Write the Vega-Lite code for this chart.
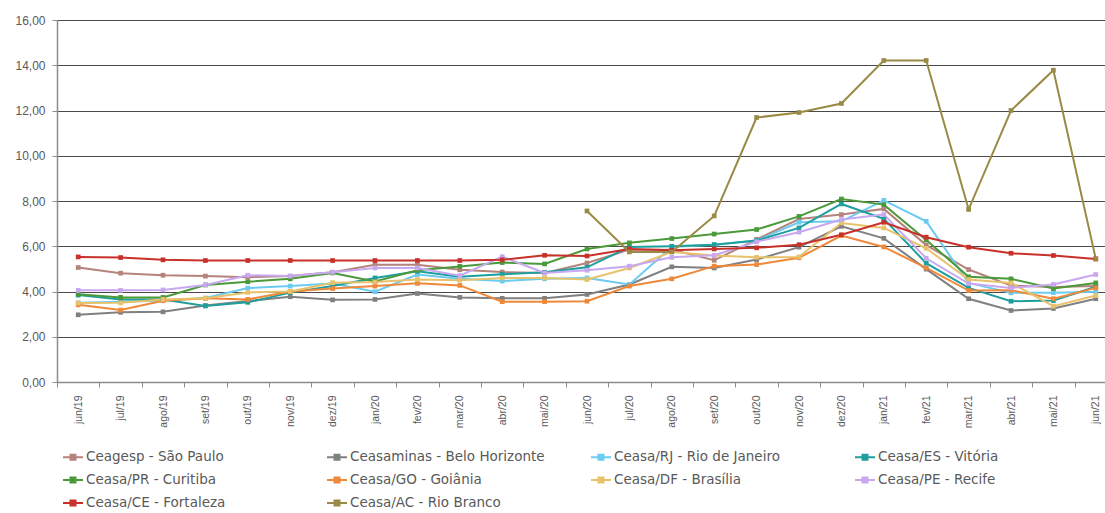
{
  "$schema": "https://vega.github.io/schema/vega-lite/v6.json",
  "autosize": "none",
  "width": 1048,
  "height": 362,
  "padding": {"left": 57, "top": 20, "right": 0, "bottom": 131},
  "background": "white",
  "config": {
    "view": {"stroke": null},
    "font": "Liberation Sans"
  },
  "data": {"values": [
    {"m":"jun/19","s":"Ceagesp - São Paulo","v":5.06},{"m":"jul/19","s":"Ceagesp - São Paulo","v":4.81},{"m":"ago/19","s":"Ceagesp - São Paulo","v":4.72},{"m":"set/19","s":"Ceagesp - São Paulo","v":4.68},{"m":"out/19","s":"Ceagesp - São Paulo","v":4.63},{"m":"nov/19","s":"Ceagesp - São Paulo","v":4.68},{"m":"dez/19","s":"Ceagesp - São Paulo","v":4.85},{"m":"jan/20","s":"Ceagesp - São Paulo","v":5.18},{"m":"fev/20","s":"Ceagesp - São Paulo","v":5.18},{"m":"mar/20","s":"Ceagesp - São Paulo","v":4.96},{"m":"abr/20","s":"Ceagesp - São Paulo","v":4.86},{"m":"mai/20","s":"Ceagesp - São Paulo","v":4.82},{"m":"jun/20","s":"Ceagesp - São Paulo","v":5.26},{"m":"jul/20","s":"Ceagesp - São Paulo","v":5.85},{"m":"ago/20","s":"Ceagesp - São Paulo","v":5.85},{"m":"set/20","s":"Ceagesp - São Paulo","v":5.38},{"m":"out/20","s":"Ceagesp - São Paulo","v":6.3},{"m":"nov/20","s":"Ceagesp - São Paulo","v":7.2},{"m":"dez/20","s":"Ceagesp - São Paulo","v":7.4},{"m":"jan/21","s":"Ceagesp - São Paulo","v":7.65},{"m":"fev/21","s":"Ceagesp - São Paulo","v":6.05},{"m":"mar/21","s":"Ceagesp - São Paulo","v":4.97},{"m":"abr/21","s":"Ceagesp - São Paulo","v":4.26},{"m":"mai/21","s":"Ceagesp - São Paulo","v":4.2},{"m":"jun/21","s":"Ceagesp - São Paulo","v":4.24},
    {"m":"jun/19","s":"Ceasaminas - Belo Horizonte","v":2.97},{"m":"jul/19","s":"Ceasaminas - Belo Horizonte","v":3.08},{"m":"ago/19","s":"Ceasaminas - Belo Horizonte","v":3.1},{"m":"set/19","s":"Ceasaminas - Belo Horizonte","v":3.38},{"m":"out/19","s":"Ceasaminas - Belo Horizonte","v":3.58},{"m":"nov/19","s":"Ceasaminas - Belo Horizonte","v":3.77},{"m":"dez/19","s":"Ceasaminas - Belo Horizonte","v":3.63},{"m":"jan/20","s":"Ceasaminas - Belo Horizonte","v":3.65},{"m":"fev/20","s":"Ceasaminas - Belo Horizonte","v":3.91},{"m":"mar/20","s":"Ceasaminas - Belo Horizonte","v":3.74},{"m":"abr/20","s":"Ceasaminas - Belo Horizonte","v":3.7},{"m":"mai/20","s":"Ceasaminas - Belo Horizonte","v":3.7},{"m":"jun/20","s":"Ceasaminas - Belo Horizonte","v":3.87},{"m":"jul/20","s":"Ceasaminas - Belo Horizonte","v":4.31},{"m":"ago/20","s":"Ceasaminas - Belo Horizonte","v":5.09},{"m":"set/20","s":"Ceasaminas - Belo Horizonte","v":5.04},{"m":"out/20","s":"Ceasaminas - Belo Horizonte","v":5.41},{"m":"nov/20","s":"Ceasaminas - Belo Horizonte","v":5.96},{"m":"dez/20","s":"Ceasaminas - Belo Horizonte","v":6.88},{"m":"jan/21","s":"Ceasaminas - Belo Horizonte","v":6.35},{"m":"fev/21","s":"Ceasaminas - Belo Horizonte","v":4.99},{"m":"mar/21","s":"Ceasaminas - Belo Horizonte","v":3.68},{"m":"abr/21","s":"Ceasaminas - Belo Horizonte","v":3.16},{"m":"mai/21","s":"Ceasaminas - Belo Horizonte","v":3.25},{"m":"jun/21","s":"Ceasaminas - Belo Horizonte","v":3.68},
    {"m":"jun/19","s":"Ceasa/RJ - Rio de Janeiro","v":3.5},{"m":"jul/19","s":"Ceasa/RJ - Rio de Janeiro","v":3.55},{"m":"ago/19","s":"Ceasa/RJ - Rio de Janeiro","v":3.6},{"m":"set/19","s":"Ceasa/RJ - Rio de Janeiro","v":3.71},{"m":"out/19","s":"Ceasa/RJ - Rio de Janeiro","v":4.15},{"m":"nov/19","s":"Ceasa/RJ - Rio de Janeiro","v":4.24},{"m":"dez/19","s":"Ceasa/RJ - Rio de Janeiro","v":4.35},{"m":"jan/20","s":"Ceasa/RJ - Rio de Janeiro","v":3.99},{"m":"fev/20","s":"Ceasa/RJ - Rio de Janeiro","v":4.75},{"m":"mar/20","s":"Ceasa/RJ - Rio de Janeiro","v":4.56},{"m":"abr/20","s":"Ceasa/RJ - Rio de Janeiro","v":4.46},{"m":"mai/20","s":"Ceasa/RJ - Rio de Janeiro","v":4.56},{"m":"jun/20","s":"Ceasa/RJ - Rio de Janeiro","v":4.6},{"m":"jul/20","s":"Ceasa/RJ - Rio de Janeiro","v":4.31},{"m":"ago/20","s":"Ceasa/RJ - Rio de Janeiro","v":5.97},{"m":"set/20","s":"Ceasa/RJ - Rio de Janeiro","v":6.07},{"m":"out/20","s":"Ceasa/RJ - Rio de Janeiro","v":6.25},{"m":"nov/20","s":"Ceasa/RJ - Rio de Janeiro","v":7.06},{"m":"dez/20","s":"Ceasa/RJ - Rio de Janeiro","v":7.1},{"m":"jan/21","s":"Ceasa/RJ - Rio de Janeiro","v":8.03},{"m":"fev/21","s":"Ceasa/RJ - Rio de Janeiro","v":7.1},{"m":"mar/21","s":"Ceasa/RJ - Rio de Janeiro","v":4.38},{"m":"abr/21","s":"Ceasa/RJ - Rio de Janeiro","v":3.94},{"m":"mai/21","s":"Ceasa/RJ - Rio de Janeiro","v":3.95},{"m":"jun/21","s":"Ceasa/RJ - Rio de Janeiro","v":3.99},
    {"m":"jun/19","s":"Ceasa/ES - Vitória","v":3.84},{"m":"jul/19","s":"Ceasa/ES - Vitória","v":3.65},{"m":"ago/19","s":"Ceasa/ES - Vitória","v":3.65},{"m":"set/19","s":"Ceasa/ES - Vitória","v":3.36},{"m":"out/19","s":"Ceasa/ES - Vitória","v":3.52},{"m":"nov/19","s":"Ceasa/ES - Vitória","v":3.95},{"m":"dez/19","s":"Ceasa/ES - Vitória","v":4.24},{"m":"jan/20","s":"Ceasa/ES - Vitória","v":4.6},{"m":"fev/20","s":"Ceasa/ES - Vitória","v":4.89},{"m":"mar/20","s":"Ceasa/ES - Vitória","v":4.65},{"m":"abr/20","s":"Ceasa/ES - Vitória","v":4.76},{"m":"mai/20","s":"Ceasa/ES - Vitória","v":4.85},{"m":"jun/20","s":"Ceasa/ES - Vitória","v":5.07},{"m":"jul/20","s":"Ceasa/ES - Vitória","v":5.97},{"m":"ago/20","s":"Ceasa/ES - Vitória","v":6.0},{"m":"set/20","s":"Ceasa/ES - Vitória","v":6.07},{"m":"out/20","s":"Ceasa/ES - Vitória","v":6.25},{"m":"nov/20","s":"Ceasa/ES - Vitória","v":6.81},{"m":"dez/20","s":"Ceasa/ES - Vitória","v":7.87},{"m":"jan/21","s":"Ceasa/ES - Vitória","v":7.21},{"m":"fev/21","s":"Ceasa/ES - Vitória","v":5.25},{"m":"mar/21","s":"Ceasa/ES - Vitória","v":4.16},{"m":"abr/21","s":"Ceasa/ES - Vitória","v":3.57},{"m":"mai/21","s":"Ceasa/ES - Vitória","v":3.6},{"m":"jun/21","s":"Ceasa/ES - Vitória","v":4.21},
    {"m":"jun/19","s":"Ceasa/PR - Curitiba","v":3.88},{"m":"jul/19","s":"Ceasa/PR - Curitiba","v":3.74},{"m":"ago/19","s":"Ceasa/PR - Curitiba","v":3.74},{"m":"set/19","s":"Ceasa/PR - Curitiba","v":4.29},{"m":"out/19","s":"Ceasa/PR - Curitiba","v":4.43},{"m":"nov/19","s":"Ceasa/PR - Curitiba","v":4.56},{"m":"dez/19","s":"Ceasa/PR - Curitiba","v":4.82},{"m":"jan/20","s":"Ceasa/PR - Curitiba","v":4.44},{"m":"fev/20","s":"Ceasa/PR - Curitiba","v":4.94},{"m":"mar/20","s":"Ceasa/PR - Curitiba","v":5.11},{"m":"abr/20","s":"Ceasa/PR - Curitiba","v":5.28},{"m":"mai/20","s":"Ceasa/PR - Curitiba","v":5.22},{"m":"jun/20","s":"Ceasa/PR - Curitiba","v":5.88},{"m":"jul/20","s":"Ceasa/PR - Curitiba","v":6.15},{"m":"ago/20","s":"Ceasa/PR - Curitiba","v":6.34},{"m":"set/20","s":"Ceasa/PR - Curitiba","v":6.54},{"m":"out/20","s":"Ceasa/PR - Curitiba","v":6.74},{"m":"nov/20","s":"Ceasa/PR - Curitiba","v":7.32},{"m":"dez/20","s":"Ceasa/PR - Curitiba","v":8.09},{"m":"jan/21","s":"Ceasa/PR - Curitiba","v":7.84},{"m":"fev/21","s":"Ceasa/PR - Curitiba","v":6.28},{"m":"mar/21","s":"Ceasa/PR - Curitiba","v":4.65},{"m":"abr/21","s":"Ceasa/PR - Curitiba","v":4.56},{"m":"mai/21","s":"Ceasa/PR - Curitiba","v":4.13},{"m":"jun/21","s":"Ceasa/PR - Curitiba","v":4.38},
    {"m":"jun/19","s":"Ceasa/GO - Goiânia","v":3.41},{"m":"jul/19","s":"Ceasa/GO - Goiânia","v":3.18},{"m":"ago/19","s":"Ceasa/GO - Goiânia","v":3.59},{"m":"set/19","s":"Ceasa/GO - Goiânia","v":3.7},{"m":"out/19","s":"Ceasa/GO - Goiânia","v":3.65},{"m":"nov/19","s":"Ceasa/GO - Goiânia","v":4.0},{"m":"dez/19","s":"Ceasa/GO - Goiânia","v":4.13},{"m":"jan/20","s":"Ceasa/GO - Goiânia","v":4.24},{"m":"fev/20","s":"Ceasa/GO - Goiânia","v":4.36},{"m":"mar/20","s":"Ceasa/GO - Goiânia","v":4.27},{"m":"abr/20","s":"Ceasa/GO - Goiânia","v":3.55},{"m":"mai/20","s":"Ceasa/GO - Goiânia","v":3.55},{"m":"jun/20","s":"Ceasa/GO - Goiânia","v":3.57},{"m":"jul/20","s":"Ceasa/GO - Goiânia","v":4.24},{"m":"ago/20","s":"Ceasa/GO - Goiânia","v":4.56},{"m":"set/20","s":"Ceasa/GO - Goiânia","v":5.12},{"m":"out/20","s":"Ceasa/GO - Goiânia","v":5.19},{"m":"nov/20","s":"Ceasa/GO - Goiânia","v":5.49},{"m":"dez/20","s":"Ceasa/GO - Goiânia","v":6.47},{"m":"jan/21","s":"Ceasa/GO - Goiânia","v":5.97},{"m":"fev/21","s":"Ceasa/GO - Goiânia","v":5.04},{"m":"mar/21","s":"Ceasa/GO - Goiânia","v":4.04},{"m":"abr/21","s":"Ceasa/GO - Goiânia","v":4.06},{"m":"mai/21","s":"Ceasa/GO - Goiânia","v":3.68},{"m":"jun/21","s":"Ceasa/GO - Goiânia","v":4.16},
    {"m":"jun/19","s":"Ceasa/DF - Brasília","v":3.49},{"m":"jul/19","s":"Ceasa/DF - Brasília","v":3.5},{"m":"ago/19","s":"Ceasa/DF - Brasília","v":3.65},{"m":"set/19","s":"Ceasa/DF - Brasília","v":3.7},{"m":"out/19","s":"Ceasa/DF - Brasília","v":3.96},{"m":"nov/19","s":"Ceasa/DF - Brasília","v":4.0},{"m":"dez/19","s":"Ceasa/DF - Brasília","v":4.39},{"m":"jan/20","s":"Ceasa/DF - Brasília","v":4.42},{"m":"fev/20","s":"Ceasa/DF - Brasília","v":4.53},{"m":"mar/20","s":"Ceasa/DF - Brasília","v":4.5},{"m":"abr/20","s":"Ceasa/DF - Brasília","v":4.6},{"m":"mai/20","s":"Ceasa/DF - Brasília","v":4.6},{"m":"jun/20","s":"Ceasa/DF - Brasília","v":4.53},{"m":"jul/20","s":"Ceasa/DF - Brasília","v":5.04},{"m":"ago/20","s":"Ceasa/DF - Brasília","v":5.75},{"m":"set/20","s":"Ceasa/DF - Brasília","v":5.59},{"m":"out/20","s":"Ceasa/DF - Brasília","v":5.51},{"m":"nov/20","s":"Ceasa/DF - Brasília","v":5.53},{"m":"dez/20","s":"Ceasa/DF - Brasília","v":7.03},{"m":"jan/21","s":"Ceasa/DF - Brasília","v":6.81},{"m":"fev/21","s":"Ceasa/DF - Brasília","v":5.91},{"m":"mar/21","s":"Ceasa/DF - Brasília","v":4.53},{"m":"abr/21","s":"Ceasa/DF - Brasília","v":4.38},{"m":"mai/21","s":"Ceasa/DF - Brasília","v":3.35},{"m":"jun/21","s":"Ceasa/DF - Brasília","v":3.82},
    {"m":"jun/19","s":"Ceasa/PE - Recife","v":4.05},{"m":"jul/19","s":"Ceasa/PE - Recife","v":4.05},{"m":"ago/19","s":"Ceasa/PE - Recife","v":4.07},{"m":"set/19","s":"Ceasa/PE - Recife","v":4.29},{"m":"out/19","s":"Ceasa/PE - Recife","v":4.72},{"m":"nov/19","s":"Ceasa/PE - Recife","v":4.68},{"m":"dez/19","s":"Ceasa/PE - Recife","v":4.85},{"m":"jan/20","s":"Ceasa/PE - Recife","v":5.04},{"m":"fev/20","s":"Ceasa/PE - Recife","v":5.04},{"m":"mar/20","s":"Ceasa/PE - Recife","v":4.7},{"m":"abr/20","s":"Ceasa/PE - Recife","v":5.54},{"m":"mai/20","s":"Ceasa/PE - Recife","v":4.82},{"m":"jun/20","s":"Ceasa/PE - Recife","v":4.94},{"m":"jul/20","s":"Ceasa/PE - Recife","v":5.12},{"m":"ago/20","s":"Ceasa/PE - Recife","v":5.51},{"m":"set/20","s":"Ceasa/PE - Recife","v":5.6},{"m":"out/20","s":"Ceasa/PE - Recife","v":6.2},{"m":"nov/20","s":"Ceasa/PE - Recife","v":6.62},{"m":"dez/20","s":"Ceasa/PE - Recife","v":7.18},{"m":"jan/21","s":"Ceasa/PE - Recife","v":7.4},{"m":"fev/21","s":"Ceasa/PE - Recife","v":5.47},{"m":"mar/21","s":"Ceasa/PE - Recife","v":4.35},{"m":"abr/21","s":"Ceasa/PE - Recife","v":4.16},{"m":"mai/21","s":"Ceasa/PE - Recife","v":4.31},{"m":"jun/21","s":"Ceasa/PE - Recife","v":4.75},
    {"m":"jun/19","s":"Ceasa/CE - Fortaleza","v":5.53},{"m":"jul/19","s":"Ceasa/CE - Fortaleza","v":5.5},{"m":"ago/19","s":"Ceasa/CE - Fortaleza","v":5.4},{"m":"set/19","s":"Ceasa/CE - Fortaleza","v":5.37},{"m":"out/19","s":"Ceasa/CE - Fortaleza","v":5.37},{"m":"nov/19","s":"Ceasa/CE - Fortaleza","v":5.37},{"m":"dez/19","s":"Ceasa/CE - Fortaleza","v":5.37},{"m":"jan/20","s":"Ceasa/CE - Fortaleza","v":5.37},{"m":"fev/20","s":"Ceasa/CE - Fortaleza","v":5.37},{"m":"mar/20","s":"Ceasa/CE - Fortaleza","v":5.37},{"m":"abr/20","s":"Ceasa/CE - Fortaleza","v":5.4},{"m":"mai/20","s":"Ceasa/CE - Fortaleza","v":5.6},{"m":"jun/20","s":"Ceasa/CE - Fortaleza","v":5.57},{"m":"jul/20","s":"Ceasa/CE - Fortaleza","v":5.88},{"m":"ago/20","s":"Ceasa/CE - Fortaleza","v":5.82},{"m":"set/20","s":"Ceasa/CE - Fortaleza","v":5.88},{"m":"out/20","s":"Ceasa/CE - Fortaleza","v":5.93},{"m":"nov/20","s":"Ceasa/CE - Fortaleza","v":6.07},{"m":"dez/20","s":"Ceasa/CE - Fortaleza","v":6.51},{"m":"jan/21","s":"Ceasa/CE - Fortaleza","v":7.06},{"m":"fev/21","s":"Ceasa/CE - Fortaleza","v":6.4},{"m":"mar/21","s":"Ceasa/CE - Fortaleza","v":5.96},{"m":"abr/21","s":"Ceasa/CE - Fortaleza","v":5.69},{"m":"mai/21","s":"Ceasa/CE - Fortaleza","v":5.59},{"m":"jun/21","s":"Ceasa/CE - Fortaleza","v":5.44},
    {"m":"jun/20","s":"Ceasa/AC - Rio Branco","v":7.56},{"m":"jul/20","s":"Ceasa/AC - Rio Branco","v":5.75},{"m":"ago/20","s":"Ceasa/AC - Rio Branco","v":5.75},{"m":"set/20","s":"Ceasa/AC - Rio Branco","v":7.34},{"m":"out/20","s":"Ceasa/AC - Rio Branco","v":11.69},{"m":"nov/20","s":"Ceasa/AC - Rio Branco","v":11.91},{"m":"dez/20","s":"Ceasa/AC - Rio Branco","v":12.31},{"m":"jan/21","s":"Ceasa/AC - Rio Branco","v":14.21},{"m":"fev/21","s":"Ceasa/AC - Rio Branco","v":14.21},{"m":"mar/21","s":"Ceasa/AC - Rio Branco","v":7.63},{"m":"abr/21","s":"Ceasa/AC - Rio Branco","v":12.0},{"m":"mai/21","s":"Ceasa/AC - Rio Branco","v":13.78},{"m":"jun/21","s":"Ceasa/AC - Rio Branco","v":5.44}
  ]},
  "mark": {
    "type": "line",
    "strokeWidth": 2,
    "point": {"shape": "square", "size": 22, "filled": true, "opacity": 1}
  },
  "encoding": {
    "x": {
      "field": "m",
      "type": "ordinal",
      "sort": null,
      "scale": {"type": "band", "range": [0, 1060], "paddingInner": 0, "paddingOuter": 0},
      "axis": {
        "title": null,
        "labelAngle": -90,
        "labelFontSize": 10.5,
        "labelColor": "#595959",
        "labelPadding": 8,
        "tickBand": "extent",
        "tickColor": "#8c8c8c",
        "tickSize": 5,
        "domainColor": "#8c8c8c",
        "domainWidth": 1.5,
        "grid": false
      }
    },
    "y": {
      "field": "v",
      "type": "quantitative",
      "scale": {"domain": [0, 16], "nice": false, "zero": true},
      "axis": {
        "title": null,
        "values": [0, 2, 4, 6, 8, 10, 12, 14, 16],
        "labelExpr": "replace(format(datum.value, '.2f'), '.', ',')",
        "labelFontSize": 12,
        "labelColor": "#595959",
        "labelPadding": 7,
        "tickSize": 5,
        "tickColor": "#8c8c8c",
        "domainColor": "#8c8c8c",
        "domainWidth": 1.5,
        "grid": true,
        "gridColor": "#4a4a4a",
        "gridWidth": 1
      }
    },
    "color": {
      "field": "s",
      "type": "nominal",
      "scale": {
        "domain": ["Ceagesp - São Paulo", "Ceasaminas - Belo Horizonte", "Ceasa/RJ - Rio de Janeiro", "Ceasa/ES - Vitória", "Ceasa/PR - Curitiba", "Ceasa/GO - Goiânia", "Ceasa/DF - Brasília", "Ceasa/PE - Recife", "Ceasa/CE - Fortaleza", "Ceasa/AC - Rio Branco"],
        "range": ["#b4837c", "#808080", "#6ccbf0", "#1f9e9e", "#4a9a3a", "#f0883a", "#e8c26a", "#c8a8f0", "#c8302a", "#9a8a45"]
      },
      "legend": {
        "title": null,
        "orient": "none",
        "legendX": 5,
        "legendY": 426,
        "columns": 4,
        "direction": "horizontal",
        "gridAlign": "all",
        "columnPadding": 42,
        "rowPadding": 5,
        "labelFont": "DejaVu Sans",
        "labelFontSize": 13.5,
        "labelLimit": 400,
        "labelColor": "#595959",
        "labelOffset": 2,
        "symbolType": "M-1,0H1M-0.25,-0.25H0.25V0.25H-0.25Z",
        "symbolSize": 400,
        "symbolStrokeWidth": 2
      }
    }
  }
}
